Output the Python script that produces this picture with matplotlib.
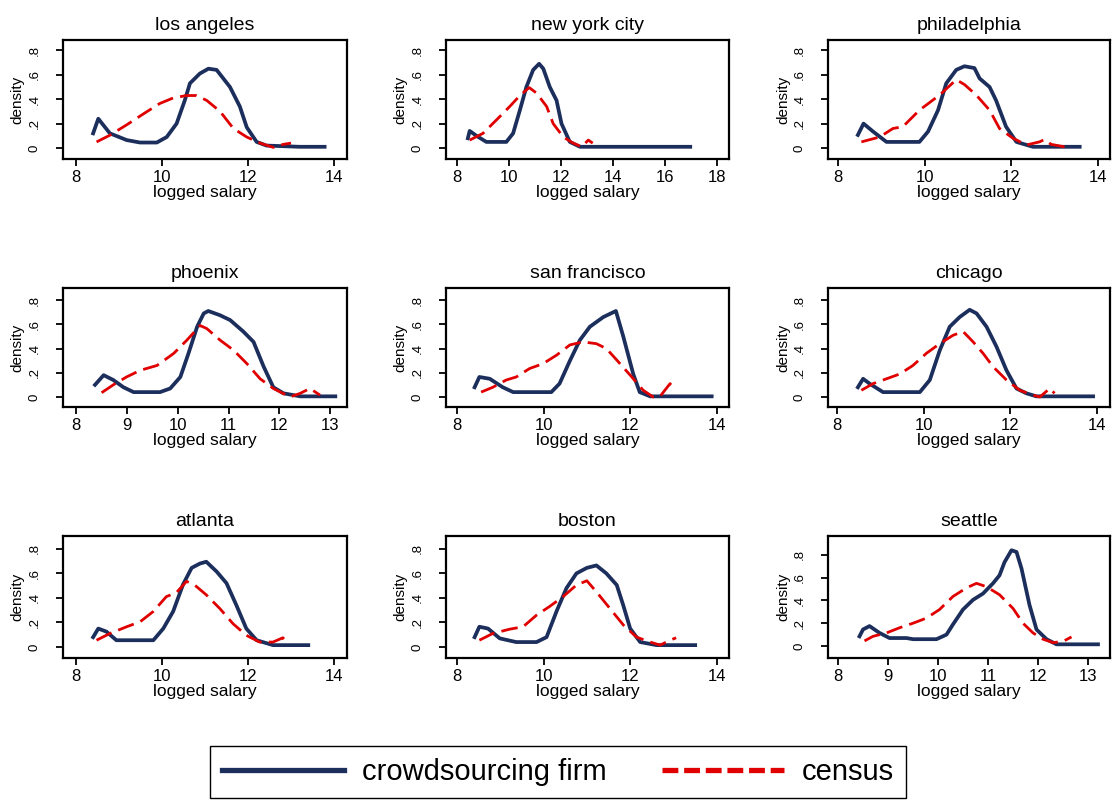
import matplotlib
matplotlib.use("Agg")
import matplotlib.pyplot as plt
from matplotlib.lines import Line2D
import numpy as np

plt.rcParams['font.family'] = ['Liberation Sans', 'DejaVu Sans']

NAVY = '#1c2e5c'
RED = '#e00000'

cities = ["los angeles", "new york city", "philadelphia",
          "phoenix", "san francisco", "chicago",
          "atlanta", "boston", "seattle"]

# crowdsourcing firm densities
firm_x_la = [8.40, 8.52, 8.79, 9.18, 9.49, 9.88, 10.11, 10.34, 10.53, 10.65, 10.88, 11.08, 11.27, 11.58, 11.81, 11.97, 12.2, 12.43, 13.2, 13.78]
firm_y_la = [0.12, 0.24, 0.12, 0.065, 0.045, 0.045, 0.09, 0.2, 0.39, 0.53, 0.61, 0.65, 0.64, 0.50, 0.34, 0.17, 0.05, 0.02, 0.01, 0.01]
firm_x_ny = [8.42, 8.49, 8.75, 9.13, 9.9, 10.16, 10.42, 10.67, 10.93, 11.16, 11.32, 11.57, 11.83, 12.02, 12.34, 12.73, 16.97]
firm_y_ny = [0.08, 0.14, 0.1, 0.05, 0.05, 0.12, 0.31, 0.5, 0.64, 0.69, 0.65, 0.5, 0.39, 0.2, 0.05, 0.01, 0.01]
firm_x_ph = [8.46, 8.59, 8.81, 9.12, 9.88, 10.08, 10.31, 10.5, 10.73, 10.92, 11.15, 11.27, 11.5, 11.65, 11.88, 12.12, 12.5, 13.58]
firm_y_ph = [0.107, 0.2, 0.135, 0.05, 0.05, 0.135, 0.31, 0.53, 0.64, 0.67, 0.655, 0.57, 0.5, 0.39, 0.175, 0.05, 0.01, 0.01]
firm_x_px = [8.37, 8.54, 8.73, 8.93, 9.13, 9.65, 9.85, 10.05, 10.21, 10.38, 10.51, 10.6, 10.83, 11.03, 11.29, 11.49, 11.69, 11.88, 12.08, 12.41, 13.1]
firm_y_px = [0.1, 0.18, 0.14, 0.08, 0.04, 0.04, 0.07, 0.165, 0.36, 0.58, 0.69, 0.71, 0.675, 0.635, 0.54, 0.455, 0.25, 0.08, 0.03, 0.005, 0.005]
firm_x_sf = [8.41, 8.52, 8.76, 9.06, 9.3, 10.18, 10.37, 10.61, 10.84, 11.07, 11.38, 11.67, 11.84, 12.07, 12.22, 12.46, 13.88]
firm_y_sf = [0.08, 0.165, 0.15, 0.08, 0.04, 0.04, 0.11, 0.3, 0.47, 0.58, 0.66, 0.71, 0.5, 0.19, 0.04, 0.005, 0.005]
firm_x_ch = [8.48, 8.6, 8.75, 9.06, 9.91, 10.14, 10.37, 10.6, 10.83, 11.06, 11.22, 11.45, 11.68, 11.91, 12.14, 12.37, 12.6, 13.91]
firm_y_ch = [0.08, 0.15, 0.11, 0.04, 0.04, 0.14, 0.385, 0.58, 0.66, 0.72, 0.69, 0.58, 0.415, 0.22, 0.07, 0.03, 0.005, 0.005]
firm_x_at = [8.4, 8.52, 8.71, 8.94, 9.8, 10.03, 10.26, 10.49, 10.69, 10.88, 11.03, 11.27, 11.5, 11.73, 11.96, 12.2, 12.58, 13.4]
firm_y_at = [0.08, 0.15, 0.125, 0.055, 0.055, 0.15, 0.29, 0.51, 0.645, 0.68, 0.695, 0.615, 0.52, 0.34, 0.15, 0.055, 0.015, 0.015]
firm_x_bo = [8.41, 8.52, 8.72, 8.99, 9.37, 9.84, 10.07, 10.3, 10.53, 10.76, 11.0, 11.22, 11.45, 11.69, 11.84, 12.0, 12.23, 12.61, 13.5]
firm_y_bo = [0.08, 0.165, 0.15, 0.07, 0.04, 0.04, 0.08, 0.29, 0.48, 0.6, 0.645, 0.665, 0.6, 0.505, 0.34, 0.15, 0.04, 0.015, 0.015]
firm_x_se = [8.43, 8.5, 8.63, 8.83, 9.03, 9.37, 9.5, 9.97, 10.17, 10.3, 10.5, 10.7, 10.9, 11.1, 11.23, 11.33, 11.47, 11.57, 11.67, 11.83, 11.97, 12.17, 12.37, 13.2]
firm_y_se = [0.085, 0.145, 0.175, 0.115, 0.07, 0.07, 0.06, 0.06, 0.1, 0.19, 0.32, 0.405, 0.46, 0.55, 0.62, 0.735, 0.84, 0.825, 0.68, 0.36, 0.145, 0.06, 0.015, 0.015]

# census densities
cens_x_la = [8.48, 8.79, 9.18, 9.57, 9.95, 10.26, 10.57, 10.8, 11.04, 11.35, 11.66, 11.97, 12.28, 12.59, 12.82, 13.0]
cens_y_la = [0.05, 0.105, 0.19, 0.28, 0.365, 0.41, 0.43, 0.43, 0.39, 0.30, 0.16, 0.09, 0.04, 0.005, 0.03, 0.04]
cens_x_ny = [8.49, 9.0, 9.52, 10.03, 10.42, 10.78, 11.06, 11.45, 11.7, 12.09, 12.47, 12.8, 13.05, 13.22]
cens_y_ny = [0.065, 0.12, 0.23, 0.34, 0.43, 0.495, 0.45, 0.34, 0.2, 0.09, 0.04, 0.01, 0.065, 0.04]
cens_x_ph = [8.54, 8.96, 9.27, 9.5, 9.88, 10.35, 10.73, 10.92, 11.19, 11.5, 11.73, 12.04, 12.35, 12.65, 12.77, 12.92, 13.23]
cens_y_ph = [0.05, 0.09, 0.16, 0.175, 0.31, 0.435, 0.56, 0.52, 0.435, 0.31, 0.16, 0.08, 0.025, 0.05, 0.07, 0.03, 0.01]
cens_x_px = [8.5, 8.73, 8.99, 9.26, 9.59, 9.92, 10.18, 10.44, 10.57, 10.83, 11.1, 11.36, 11.62, 11.88, 12.21, 12.41, 12.6, 12.8]
cens_y_px = [0.035, 0.1, 0.165, 0.22, 0.26, 0.36, 0.47, 0.59, 0.565, 0.47, 0.385, 0.275, 0.15, 0.07, 0.0, 0.03, 0.07, 0.015]
cens_x_sf = [8.56, 8.83, 9.14, 9.37, 9.68, 9.99, 10.3, 10.61, 10.91, 11.22, 11.45, 11.69, 12.0, 12.3, 12.53, 12.69, 12.92, 13.01]
cens_y_sf = [0.04, 0.08, 0.14, 0.165, 0.235, 0.275, 0.345, 0.43, 0.455, 0.44, 0.4, 0.305, 0.18, 0.055, 0.0, 0.005, 0.11, 0.07]
cens_x_ch = [8.56, 8.83, 9.14, 9.45, 9.75, 10.06, 10.37, 10.68, 10.91, 11.14, 11.37, 11.6, 11.91, 12.22, 12.52, 12.68, 12.91, 13.02]
cens_y_ch = [0.055, 0.11, 0.15, 0.19, 0.26, 0.36, 0.44, 0.51, 0.54, 0.455, 0.36, 0.25, 0.14, 0.055, 0.015, 0.0, 0.07, 0.03]
cens_x_at = [8.48, 8.79, 9.18, 9.49, 9.8, 10.1, 10.34, 10.57, 10.76, 11.03, 11.34, 11.65, 11.96, 12.27, 12.58, 12.81, 12.85]
cens_y_at = [0.055, 0.11, 0.165, 0.205, 0.29, 0.41, 0.445, 0.535, 0.505, 0.425, 0.315, 0.19, 0.095, 0.04, 0.04, 0.075, 0.06]
cens_x_bo = [8.52, 8.83, 9.22, 9.53, 9.84, 10.14, 10.45, 10.76, 11.0, 11.22, 11.53, 11.84, 12.15, 12.46, 12.69, 12.92, 13.06]
cens_y_bo = [0.055, 0.11, 0.145, 0.165, 0.26, 0.33, 0.41, 0.505, 0.54, 0.45, 0.315, 0.18, 0.08, 0.04, 0.015, 0.055, 0.075]
cens_x_se = [8.53, 8.7, 8.97, 9.23, 9.5, 9.77, 10.03, 10.3, 10.57, 10.77, 10.97, 11.23, 11.5, 11.7, 11.9, 12.1, 12.3, 12.5, 12.67]
cens_y_se = [0.045, 0.085, 0.115, 0.16, 0.2, 0.245, 0.32, 0.435, 0.51, 0.55, 0.52, 0.45, 0.33, 0.2, 0.115, 0.06, 0.03, 0.04, 0.08]

firm_x = [firm_x_la, firm_x_ny, firm_x_ph, firm_x_px, firm_x_sf, firm_x_ch, firm_x_at, firm_x_bo, firm_x_se]
firm_y = [firm_y_la, firm_y_ny, firm_y_ph, firm_y_px, firm_y_sf, firm_y_ch, firm_y_at, firm_y_bo, firm_y_se]
cens_x = [cens_x_la, cens_x_ny, cens_x_ph, cens_x_px, cens_x_sf, cens_x_ch, cens_x_at, cens_x_bo, cens_x_se]
cens_y = [cens_y_la, cens_y_ny, cens_y_ph, cens_y_px, cens_y_sf, cens_y_ch, cens_y_at, cens_y_bo, cens_y_se]

# x tick values per panel
xticks = [[8, 10, 12, 14], [8, 10, 12, 14, 16, 18], [8, 10, 12, 14],
          [8, 9, 10, 11, 12, 13], [8, 10, 12, 14], [8, 10, 12, 14],
          [8, 10, 12, 14], [8, 10, 12, 14], [8, 9, 10, 11, 12, 13]]
yticks = [0, .2, .4, .6, .8]
ytick_labels = ["0", ".2", ".4", ".6", ".8"]

# axis ranges
xlims = [(7.7, 14.3), (7.58, 18.46), (7.77, 14.28),
         (7.74, 13.33), (7.75, 14.28), (7.79, 14.3),
         (7.7, 14.3), (7.75, 14.28), (7.8, 13.44)]
ylims = [(-0.09, 0.885), (-0.09, 0.885), (-0.09, 0.885),
         (-0.083, 0.90), (-0.083, 0.90), (-0.083, 0.90),
         (-0.09, 0.905), (-0.09, 0.905), (-0.105, 0.965)]

W, H = 1112, 801
fig = plt.figure(figsize=(W / 100, H / 100), dpi=100)

col_px = [(63, 347), (446, 729), (828, 1110)]
row_px = [(40, 159), (288, 407), (536, 658)]

for i, city in enumerate(cities):
    r, c = divmod(i, 3)
    x0, x1 = col_px[c]
    y0, y1 = row_px[r]
    ax = fig.add_axes([x0 / W, 1 - y1 / H, (x1 - x0) / W, (y1 - y0) / H])
    ax.plot(firm_x[i], firm_y[i], color=NAVY, lw=2.7, solid_joinstyle='round', zorder=3)
    ax.plot(cens_x[i], cens_y[i], color=RED, lw=2.0, dashes=(6, 2.6), zorder=4)
    ax.set_xlim(*xlims[i])
    ax.set_ylim(*ylims[i])
    ax.set_xticks(xticks[i])
    ax.set_yticks(yticks)
    ax.set_yticklabels(ytick_labels, rotation=90, va='center', fontsize=9.5)
    ax.tick_params(axis='x', direction='out', length=5, width=1.3, pad=3, labelsize=12)
    ax.tick_params(axis='y', direction='out', length=5, width=1.3, pad=11)
    for s in ax.spines.values():
        s.set_linewidth(1.6)
    ax.set_title(city, fontsize=14, pad=7)
    ax.set_xlabel("logged salary", fontsize=12.5, labelpad=0)
    ax.set_ylabel("density", fontsize=11, labelpad=0)
    ax.yaxis.set_label_coords(-0.135, 0.5)

handles = [Line2D([], [], color=NAVY, lw=3.8),
           Line2D([], [], color=RED, lw=3.8, dashes=(3.0, 1.1))]
fig.legend(handles, ["crowdsourcing firm", "census"], loc='center',
           bbox_to_anchor=(558 / W, 1 - 772 / H), ncol=2, fontsize=21,
           frameon=True, fancybox=False, edgecolor='black', framealpha=1,
           handlelength=4.2, handletextpad=0.6, columnspacing=1.9,
           borderpad=0.4)

fig.savefig("out.png", dpi=100)
